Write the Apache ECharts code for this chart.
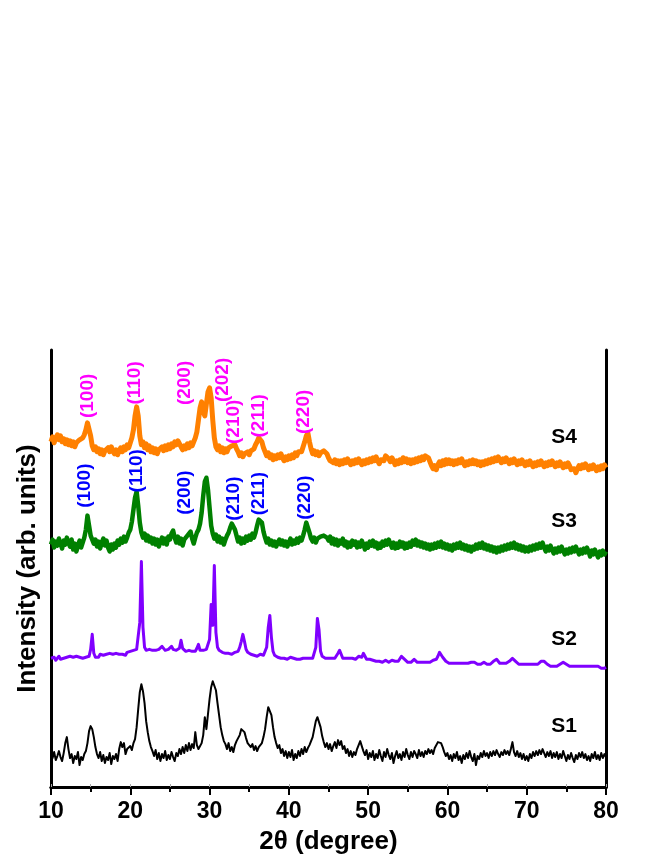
<!DOCTYPE html>
<html>
<head>
<meta charset="utf-8">
<title>XRD patterns S1-S4</title>
<script src="https://cdn.jsdelivr.net/npm/echarts@6/dist/echarts.min.js"></script>
<style>
    html, body { margin: 0; padding: 0; background: #fff; }
    #chart { width: 664px; height: 860px; }
</style>
</head>
<body>
<div id="chart"></div>
<script>
// scan: 10-80 deg, 0.2 deg step (351 points)
const scanStart = 10;
const scanStep = 0.2;

// intensities (arb. units), one row per 5 deg
const s1 = [
    33, 29, 35, 27, 31, 36, 30, 26, 34, 44, 50, 38, 29, 33, 24, 31, 28, 35, 22, 30, 27, 33, 36, 44, 56,
    61, 58, 50, 40, 33, 29, 35, 26, 32, 24, 30, 27, 34, 23, 31, 28, 33, 26, 38, 45, 40, 44, 33, 38, 36,
    41, 37, 44, 48, 60, 78, 95, 103, 96, 84, 66, 55, 46, 40, 36, 31, 37, 28, 34, 26, 33, 29, 36, 27, 32,
    28, 35, 30, 26, 34, 31, 38, 33, 40, 34, 42, 36, 44, 37, 43, 39, 55, 42, 38, 40, 44, 52, 70, 58, 73,
    88, 100, 106, 108, 97, 84, 72, 60, 52, 46, 43, 38, 44, 36, 40, 35, 42, 46, 44, 52, 58, 60, 55, 49, 44,
    46, 40, 43, 37, 41, 36, 40, 38, 44, 50, 58, 70, 80, 82, 72, 60, 50, 44, 39, 42, 34, 38, 31, 36, 29,
    35, 30, 37, 27, 33, 29, 36, 31, 38, 33, 40, 35, 39, 42, 46, 50, 58, 66, 70, 68, 60, 51, 45, 40, 44,
    38, 43, 36, 41, 45, 39, 47, 42, 46, 38, 41, 34, 38, 31, 36, 30, 35, 32, 38, 42, 46, 41, 36, 32, 37,
    28, 34, 30, 36, 27, 33, 29, 37, 31, 26, 35, 30, 38, 32, 28, 34, 24, 31, 36, 29, 33, 27, 35, 30, 38,
    32, 28, 35, 30, 36, 33, 29, 37, 31, 35, 30, 36, 33, 38, 34, 37, 33, 39, 41, 45, 47, 44, 40, 35, 31,
    34, 28, 32, 26, 33, 29, 35, 27, 31, 24, 32, 28, 34, 29, 36, 30, 26, 33, 22, 31, 28, 34, 30, 36, 31,
    34, 29, 35, 31, 36, 32, 37, 33, 30, 35, 32, 37, 33, 36, 32, 38, 45, 35, 31, 36, 30, 34, 28, 33, 27,
    31, 26, 33, 29, 35, 31, 36, 32, 37, 33, 38, 34, 30, 35, 31, 36, 29, 34, 30, 35, 28, 33, 29, 36, 31,
    26, 32, 28, 34, 29, 25, 32, 28, 34, 30, 35, 29, 33, 27, 31, 26, 33, 29, 35, 28, 32, 27, 34, 29, 33,
    30
];
const s2 = [
    129, 128, 130, 127, 129, 131, 128, 130, 129, 127, 130, 128, 131, 129, 130, 128, 131, 129, 130, 132, 129, 131, 130, 128, 131,
    138, 153, 134, 130, 132, 130, 133, 131, 132, 130, 133, 131, 134, 132, 133, 131, 134, 132, 133, 135, 133, 134, 132, 135, 134,
    136, 134, 137, 135, 138, 140, 165, 226, 160, 140, 137, 136, 138, 136, 137, 135, 137, 136, 138, 137, 141, 142, 137, 136, 138,
    137, 141, 138, 136, 137, 136, 139, 147, 139, 137, 136, 138, 137, 138, 136, 137, 136, 139, 143, 137, 136, 137, 136, 138, 140,
    148, 183, 162, 222, 155, 140, 137, 136, 135, 136, 134, 135, 134, 135, 133, 134, 135, 134, 136, 140, 146, 153, 146, 138, 135,
    134, 133, 134, 132, 133, 131, 132, 133, 131, 132, 134, 140, 160, 172, 150, 136, 132, 131, 130, 131, 129, 130, 129, 130, 128,
    129, 130, 128, 129, 130, 128, 129, 128, 130, 129, 128, 129, 130, 129, 128, 129, 131, 140, 169, 158, 136, 131, 130, 129, 130,
    129, 130, 129, 130, 129, 131, 134, 137, 133, 129, 128, 129, 128, 129, 128, 129, 127, 128, 129, 131, 132, 130, 134, 132, 128,
    127, 128, 126, 127, 128, 126, 127, 126, 127, 125, 126, 127, 126, 125, 126, 127, 125, 126, 125, 126, 128, 131, 132, 128, 126,
    125, 126, 125, 126, 128, 126, 125, 126, 125, 126, 125, 126, 125, 126, 125, 126, 127, 126, 128, 131, 135, 134, 130, 128, 126,
    125, 124, 125, 124, 125, 124, 125, 124, 125, 124, 123, 124, 125, 124, 123, 125, 126, 125, 124, 123, 124, 123, 124, 125, 124,
    123, 124, 123, 124, 126, 127, 128, 126, 124, 123, 124, 123, 124, 125, 126, 128, 129, 128, 126, 124, 123, 124, 123, 122, 123,
    122, 123, 122, 123, 122, 123, 122, 123, 124, 126, 125, 126, 124, 123, 122, 121, 122, 121, 122, 121, 122, 123, 124, 125, 124,
    123, 122, 121, 122, 121, 122, 121, 122, 121, 120, 121, 122, 121, 122, 121, 120, 121, 120, 121, 120, 121, 120, 119, 120, 119,
    120
];
const s3 = [
    243, 248, 240, 246, 242, 249, 244, 239, 247, 243, 250, 245, 241, 248, 238, 244, 236, 242, 247, 240, 245, 250, 258, 272, 262,
    252, 250, 244, 248, 241, 246, 239, 245, 249, 242, 247, 240, 236, 243, 238, 244, 240, 247, 243, 249, 245, 251, 246, 250, 255,
    258, 266, 278, 290, 296, 282, 265, 255, 250, 254, 247, 252, 246, 250, 244, 249, 243, 248, 241, 246, 250, 244, 249, 243, 251,
    248, 254, 257, 250, 245, 251, 244, 249, 242, 248, 246, 252, 250, 256, 249, 244, 250, 255, 258, 264, 275, 292, 306, 310, 298,
    280, 262, 254, 249, 253, 246, 251, 245, 249, 243, 248, 252, 255, 260, 264, 266, 258, 252, 246, 250, 244, 249, 245, 251, 247,
    252, 248, 254, 250, 255, 262, 268, 270, 265, 256, 250, 245, 249, 243, 247, 242, 246, 241, 245, 248, 243, 247, 242, 246, 241,
    245, 249, 243, 247, 244, 249, 245, 250, 247, 252, 258, 265, 263, 255, 249, 246, 250, 245, 249, 247, 251, 249, 252, 254, 250,
    247, 251, 244, 249, 243, 248, 242, 247, 244, 249, 242, 246, 240, 245, 241, 247, 243, 246, 240, 245, 241, 247, 243, 238, 244,
    240, 246, 242, 247, 241, 245, 239, 244, 240, 246, 242, 247, 243, 248, 244, 240, 245, 239, 244, 240, 246, 241, 245, 239, 244,
    240, 245, 241, 247, 243, 248, 242, 246, 241, 245, 240, 244, 239, 243, 238, 243, 239, 244, 240, 245, 241, 246, 240, 244, 239,
    243, 238, 242, 237, 243, 239, 244, 240, 245, 239, 243, 238, 242, 237, 241, 236, 241, 238, 243, 239, 244, 240, 245, 239, 243,
    238, 242, 237, 241, 236, 240, 235, 240, 236, 241, 237, 242, 238, 243, 239, 244, 240, 245, 239, 243, 238, 242, 237, 241, 236,
    240, 236, 241, 237, 242, 238, 243, 239, 244, 240, 245, 240, 236, 241, 237, 242, 238, 234, 239, 235, 240, 236, 241, 237, 233,
    238, 234, 239, 235, 240, 236, 241, 237, 233, 238, 234, 239, 235, 240, 236, 231, 237, 233, 238, 234, 230, 236, 232, 237, 233,
    236
];
const s4 = [
    346, 351, 345, 350, 353, 348, 352, 346, 349, 344, 348, 343, 347, 342, 346, 341, 345, 343, 348, 346, 350, 353, 358, 365, 364,
    352, 342, 338, 341, 336, 339, 334, 338, 333, 337, 335, 340, 336, 341, 337, 334, 338, 333, 337, 340, 336, 341, 338, 343, 340,
    345, 350, 358, 372, 381, 372, 352, 343, 346, 340, 344, 338, 342, 336, 340, 335, 339, 334, 338, 336, 341, 337, 342, 338, 343,
    339, 344, 341, 346, 343, 347, 344, 342, 338, 342, 339, 344, 340, 345, 342, 346, 350, 356, 368, 380, 386, 376, 372, 384, 396,
    400, 390, 368, 350, 341, 338, 342, 336, 340, 335, 339, 336, 340, 338, 342, 344, 343, 339, 336, 332, 335, 331, 334, 332, 336,
    333, 337, 335, 339, 343, 346, 350, 351, 346, 340, 336, 332, 335, 330, 333, 328, 332, 329, 333, 330, 334, 330, 327, 331, 328,
    332, 329, 333, 330, 335, 332, 336, 338, 336, 341, 346, 352, 355, 346, 339, 334, 337, 333, 336, 332, 335, 333, 337, 336, 334,
    330, 327, 329, 325, 328, 324, 327, 323, 327, 324, 328, 325, 329, 326, 323, 327, 324, 328, 325, 329, 326, 323, 327, 324, 328,
    325, 329, 326, 330, 327, 331, 327, 324, 328, 330, 327, 332, 334, 329, 326, 330, 327, 323, 327, 324, 328, 325, 330, 326, 329,
    325, 328, 324, 328, 325, 329, 326, 330, 327, 331, 328, 332, 334, 330, 326, 322, 319, 322, 318, 323, 326, 322, 327, 323, 328,
    324, 328, 324, 327, 323, 327, 324, 328, 325, 329, 325, 322, 326, 323, 327, 324, 328, 324, 327, 323, 326, 322, 326, 323, 327,
    324, 328, 325, 329, 326, 330, 327, 331, 328, 325, 329, 326, 330, 327, 324, 328, 325, 329, 326, 323, 327, 324, 328, 325, 322,
    326, 323, 327, 324, 321, 325, 322, 326, 323, 327, 324, 321, 325, 322, 326, 323, 327, 324, 321, 325, 322, 326, 323, 320, 324,
    321, 325, 322, 318, 316, 319, 315, 319, 322, 319, 323, 320, 324, 321, 318, 322, 319, 323, 320, 317, 321, 318, 322, 319, 323,
    320
];

// sample names, placed at right of each pattern
const sampleNames = ['S1', 'S2', 'S3', 'S4'];
const sampleLabelX = [74.7, 74.7, 74.7, 74.7];
const sampleLabelY = [61, 148, 266, 351];

// hkl labels for S4 (magenta) and S3 (blue)
const hklS4Text = ['(100)', '(110)', '(200)', '(202)', '(210)', '(211)', '(220)'];
const hklS4X = [14.7, 20.6, 26.9, 31.7, 33.0, 36.2, 41.9];
const hklS4Y = [392, 405, 405, 408, 366, 372, 376];
const hklS3Text = ['(100)', '(110)', '(200)', '(210)', '(211)', '(220)'];
const hklS3X = [14.3, 20.8, 26.9, 33.0, 36.2, 42.0];
const hklS3Y = [302, 317, 295, 289, 294, 290];

const xTicks = [10, 20, 30, 40, 50, 60, 70, 80];

const font = 'Arial, "Liberation Sans", Helvetica, sans-serif';

const toPairs = (ys) => ys.map((y, i) => [+(scanStart + i * scanStep).toFixed(1), y]);

const textSeries = (xs, ys, texts, color, size, rotate) => ({
    type: 'scatter',
    symbolSize: 0,
    silent: true,
    z: 10,
    itemStyle: { opacity: 1 },
    data: xs.map((x, i) => ({ value: [x, ys[i]], name: texts[i] })),
    label: {
        show: true,
        position: 'inside',
        rotate: rotate,
        formatter: (p) => p.name,
        color: color,
        opacity: 1,
        fontSize: size,
        fontWeight: 'bold',
        fontFamily: font,
    },
});

const trace = (name, ys, color, width) => ({
    name: name,
    type: 'line',
    data: toPairs(ys),
    showSymbol: false,
    symbol: 'none',
    silent: true,
    lineStyle: { color: color, width: width, join: 'round' },
});

const chart = echarts.init(document.getElementById('chart'), null, { renderer: 'canvas' });

chart.setOption({
    animation: false,
    backgroundColor: '#fff',
    grid: { left: 51, right: 58, top: 350, bottom: 72 },
    xAxis: [
        {
            type: 'value',
            position: 'bottom',
            min: 10,
            max: 80,
            interval: 10,
            name: '2θ (degree)',
            nameLocation: 'middle',
            nameGap: 42,
            nameTextStyle: { fontSize: 26, fontWeight: 'bold', fontFamily: font, color: '#000' },
            axisLine: { lineStyle: { color: '#000', width: 3 } },
            axisTick: { show: true, length: 8, lineStyle: { color: '#000', width: 2 } },
            minorTick: { show: true, splitNumber: 2, length: 5, lineStyle: { color: '#000', width: 2 } },
            axisLabel: {
                margin: 13,
                fontSize: 23,
                fontWeight: 'bold',
                fontFamily: font,
                color: '#000',
                formatter: (v) => (xTicks.includes(v) ? String(v) : ''),
            },
            splitLine: { show: false },
        },
        {
            type: 'value',
            position: 'top',
            min: 10,
            max: 80,
            interval: 5,
            axisLine: { lineStyle: { color: '#000', width: 3 } },
            axisTick: { show: true, length: 3, lineStyle: { color: '#aaa', width: 1 } },
            axisLabel: { show: false },
            splitLine: { show: false },
        },
    ],
    yAxis: [
        {
            type: 'value',
            position: 'left',
            min: 0,
            max: 438,
            name: 'Intensity (arb. units)',
            nameLocation: 'middle',
            nameGap: 10,
            nameTextStyle: { fontSize: 26, fontWeight: 'bold', fontFamily: font, color: '#000' },
            axisLine: { show: true, lineStyle: { color: '#000', width: 3 } },
            axisTick: { show: false },
            axisLabel: { show: false },
            splitLine: { show: false },
        },
        {
            type: 'value',
            position: 'right',
            min: 0,
            max: 438,
            axisLine: { show: true, lineStyle: { color: '#000', width: 3 } },
            axisTick: { show: false },
            axisLabel: { show: false },
            splitLine: { show: false },
        },
    ],
    series: [
        trace('S1', s1, '#000000', 2),
        trace('S2', s2, '#8000ff', 3),
        trace('S3', s3, '#008000', 4.5),
        trace('S4', s4, '#ff8000', 5),
        textSeries(hklS4X, hklS4Y, hklS4Text, '#ff00ff', 19, 90),
        textSeries(hklS3X, hklS3Y, hklS3Text, '#0000ff', 19, 90),
        textSeries(sampleLabelX, sampleLabelY, sampleNames, '#000000', 21, 0),
    ],
});
</script>
</body>
</html>
